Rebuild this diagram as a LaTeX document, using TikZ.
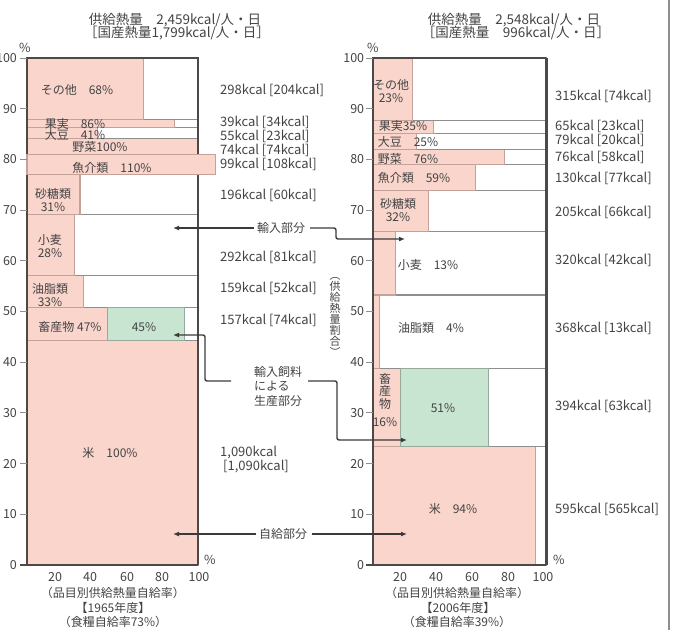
\documentclass[tikz,border=0pt]{standalone}
\usepackage{fontspec}
\setmainfont{Noto Sans CJK JP}
\usetikzlibrary{arrows.meta,calc}
\definecolor{pinkfill}{HTML}{F9D5CC}
\definecolor{pinkline}{HTML}{C4A199}
\definecolor{greenfill}{HTML}{C7E5D1}
\definecolor{greenline}{HTML}{97A99C}
\definecolor{rowline}{HTML}{8E8E8E}
\definecolor{framecol}{HTML}{4E4848}
\definecolor{txt}{HTML}{434343}
\definecolor{conn}{HTML}{3A3A3A}
\begin{document}
\begin{tikzpicture}[x=1pt,y=-1pt,
  rowbox/.style={draw=rowline,line width=1.1pt,fill=white},
  pinkbox/.style={draw=pinkline,line width=1.1pt,fill=pinkfill},
  greenbox/.style={draw=greenline,line width=1.1pt,fill=greenfill},
  frameline/.style={draw=framecol,line width=2pt},
  tickline/.style={draw=rowline,line width=1pt},
  lbl/.style={font=\fontsize{12}{13.5}\selectfont,text=txt,inner sep=0pt,align=center},
  kc/.style={font=\fontsize{13}{14}\selectfont,text=txt,inner sep=0pt,anchor=west,align=left},
  ax/.style={font=\fontsize{12.5}{14}\selectfont,text=txt,inner sep=0pt},
  ttl/.style={font=\fontsize{13.5}{15}\selectfont,text=txt,inner sep=0pt},
  connector/.style={draw=conn,line width=1.4pt,rounded corners=2pt},
  arrowed/.style={connector,-{Latex[length=6pt,width=5pt]}}]
\useasboundingbox (0,0) rectangle (678,630);
\draw[draw=rowline,line width=1.3pt] (669,0) -- (669,630);

% ---------- left chart (1965) ----------
\begin{scope}[shift={(27,565)},x=1.71pt,y=5.07pt]
  \foreach \b/\t/\w in {0/44.33/100,44.33/50.71/47,50.71/57.18/33,57.18/69.05/28,69.05/77.02/31,81.05/84.06/100,84.06/86.30/41,86.30/87.88/86,87.88/100/68}{
    \draw[rowbox] (0,\b) rectangle (100,\t);
    \draw[pinkbox] (0,\b) rectangle (\w,\t);
  }
  \draw[rowbox] (0,77.02) rectangle (100,81.05);
  \draw[greenbox] (47,44.33) rectangle (92,50.71);
  \draw[frameline] (0,0) -- (0,100) -- (100,100) -- (100,0);
  \draw[frameline] (-4,0) -- (100,0);
  \draw[pinkbox] (0,77.02) rectangle (110,81.05);
  \foreach \v in {10,20,...,100}{
    \draw[tickline] (-4,\v) -- (0,\v);
    \node[ax,anchor=east] (ly\v) at (-5.8,\v) {\v};
  }
  \node[ax,anchor=east] (ly0) at (-5.8,0) {0};
\end{scope}
\node[ax] (lpct) at (25,48) {\%};
\node[ax] (lpct2) at (210,560) {\%};
\foreach \v/\px in {20/55,40/90,60/127,80/162,100/199}{
  \node[ax] (lx\v) at (\px,577) {\v};
}
\node[ttl] (lt1) at (175,20) {供給熱量\quad 2,459kcal/人・日};
\node[ttl] (lt2) at (177,33) {［国産熱量1,799kcal/人・日］};
\node[lbl] (lcap1) at (113,593) {（品目別供給熱量自給率）};
\node[lbl] (lcap2) at (113,608) {【1965年度】};
\node[lbl] (lcap3) at (113,622) {（食糧自給率73\%）};

\node[lbl] (l-other) at (77,90) {その他\quad 68\%};
\node[lbl] (l-fruit) at (75,124) {果実\quad 86\%};
\node[lbl] (l-soy) at (75,135) {大豆\quad 41\%};
\node[lbl] (l-veg) at (100,147) {野菜100\%};
\node[lbl] (l-fish) at (112,168) {魚介類\quad 110\%};
\node[lbl] (l-sugar) at (53,200) {砂糖類\\31\%};
\node[lbl] (l-wheat) at (50,246) {小麦\\28\%};
\node[lbl] (l-oil) at (50,295) {油脂類\\33\%};
\node[lbl] (l-live) at (70,327) {畜産物 47\%};
\node[lbl] (l-feed) at (144,327) {45\%};
\node[lbl] (l-rice) at (110,453) {米\quad 100\%};

\node[kc] (lk1) at (220,90) {298kcal [204kcal]};
\node[kc] (lk2) at (220,122) {39kcal [34kcal]};
\node[kc] (lk3) at (220,136) {55kcal [23kcal]};
\node[kc] (lk4) at (220,150) {74kcal [74kcal]};
\node[kc] (lk5) at (220,164) {99kcal [108kcal]};
\node[kc] (lk6) at (220,195) {196kcal [60kcal]};
\node[kc] (lk7) at (220,257) {292kcal [81kcal]};
\node[kc] (lk8) at (220,288) {159kcal [52kcal]};
\node[kc] (lk9) at (220,320) {157kcal [74kcal]};
\node[kc] (lk10) at (220,453) {1,090kcal};
\node[kc] (lk11) at (223,467) {[1,090kcal]};

% ---------- right chart (2006) ----------
\begin{scope}[shift={(373,565)},x=1.73pt,y=5.07pt]
  \foreach \b/\t/\w in {0/23.35/94,23.35/38.81/16,38.81/53.25/4,53.25/65.81/13,65.81/73.86/32,73.86/78.96/59,78.96/81.94/76,81.94/85.04/25,85.04/87.59/35,87.59/100/23}{
    \draw[rowbox] (0,\b) rectangle (100,\t);
    \draw[pinkbox] (0,\b) rectangle (\w,\t);
  }
  \draw[greenbox] (16,23.35) rectangle (67,38.81);
  \draw[frameline] (0,0) -- (0,100) -- (100,100);
  \draw[draw=framecol,line width=3pt] (100,100) -- (100,0);
  \draw[frameline] (-4,0) -- (100,0);
  \foreach \v in {10,20,...,100}{
    \draw[tickline] (-4,\v) -- (0,\v);
    \node[ax,anchor=east] (ry\v) at (-5,\v) {\v};
  }
  \node[ax,anchor=east] (ry0) at (-5,0) {0};
\end{scope}
\node[ax] (rpct) at (373,48) {\%};
\node[ax] (rpct2) at (559,560) {\%};
\foreach \v/\px in {20/400,40/436,60/472,80/508,100/543}{
  \node[ax] (rx\v) at (\px,577) {\v};
}
\node[ttl] (rt1) at (514,20) {供給熱量\quad 2,548kcal/人・日};
\node[ttl] (rt2) at (516,33) {［国産熱量\quad 996kcal/人・日］};
\node[lbl] (rcap1) at (457,593) {（品目別供給熱量自給率）};
\node[lbl] (rcap2) at (458,608) {【2006年度】};
\node[lbl] (rcap3) at (457,622) {（食糧自給率39\%）};

\node[lbl] (r-other) at (391,91) {その他\\23\%};
\node[lbl] (r-fruit) at (403,126) {果実35\%};
\node[lbl] (r-soy) at (408,142) {大豆\quad 25\%};
\node[lbl] (r-veg) at (408,159) {野菜\quad 76\%};
\node[lbl] (r-fish) at (414,178) {魚介類\quad 59\%};
\node[lbl] (r-sugar) at (398,210) {砂糖類\\32\%};
\node[lbl] (r-wheat) at (428,265) {小麦\quad 13\%};
\node[lbl] (r-oil) at (431,328) {油脂類\quad 4\%};
\node[lbl,font=\fontsize{12}{12.5}\selectfont] (r-live) at (385,391) {畜\\産\\物};
\node[lbl] (r-live2) at (385,422) {16\%};
\node[lbl] (r-feed) at (443,408) {51\%};
\node[lbl] (r-rice) at (453,509) {米\quad 94\%};

\node[kc] (rk1) at (555,96) {315kcal [74kcal]};
\node[kc] (rk2) at (555,126) {65kcal [23kcal]};
\node[kc] (rk3) at (555,140) {79kcal [20kcal]};
\node[kc] (rk4) at (555,157) {76kcal [58kcal]};
\node[kc] (rk5) at (555,178) {130kcal [77kcal]};
\node[kc] (rk6) at (555,212) {205kcal [66kcal]};
\node[kc] (rk7) at (555,260) {320kcal [42kcal]};
\node[kc] (rk8) at (555,328) {368kcal [13kcal]};
\node[kc] (rk9) at (555,406) {394kcal [63kcal]};
\node[kc] (rk10) at (555,509) {595kcal [565kcal]};

% vertical axis label
\node[font=\fontsize{11}{11}\selectfont,text=txt,inner sep=0pt,align=center] (vlab) at (335,317)
  {︵\\供\\給\\熱\\量\\割\\合\\︶};

% ---------- annotations ----------
\node[lbl] (imp) at (281,228) {輸入部分};
\node[lbl] (self) at (283,534) {自給部分};
\node[lbl,font=\fontsize{12}{14.5}\selectfont,align=left] (feed) at (278,386) {輸入飼料\\による\\生産部分};

\coordinate (impL) at (173,228);
\coordinate (impR) at (405,239);
\coordinate (selfL) at (173,534);
\coordinate (selfR) at (407,534);
\coordinate (feedLs) at (231,381);
\coordinate (feedL) at (173,335);
\coordinate (feedRs) at (308,381);
\coordinate (feedR) at (407,440);

\draw[arrowed] ([xshift=-3pt]imp.west) -- (impL);
\draw[arrowed] ([xshift=5pt]imp.east) -- (336,228) -- (336,239) -- (impR);
\draw[arrowed] ([xshift=-3pt]self.west) -- (selfL);
\draw[arrowed] ([xshift=5pt]self.east) -- (selfR);
\draw[arrowed] (feedLs) -- (205,381) -- (205,335) -- (feedL);
\draw[arrowed] (feedRs) -- (337,381) -- (337,440) -- (feedR);
\end{tikzpicture}
\end{document}
